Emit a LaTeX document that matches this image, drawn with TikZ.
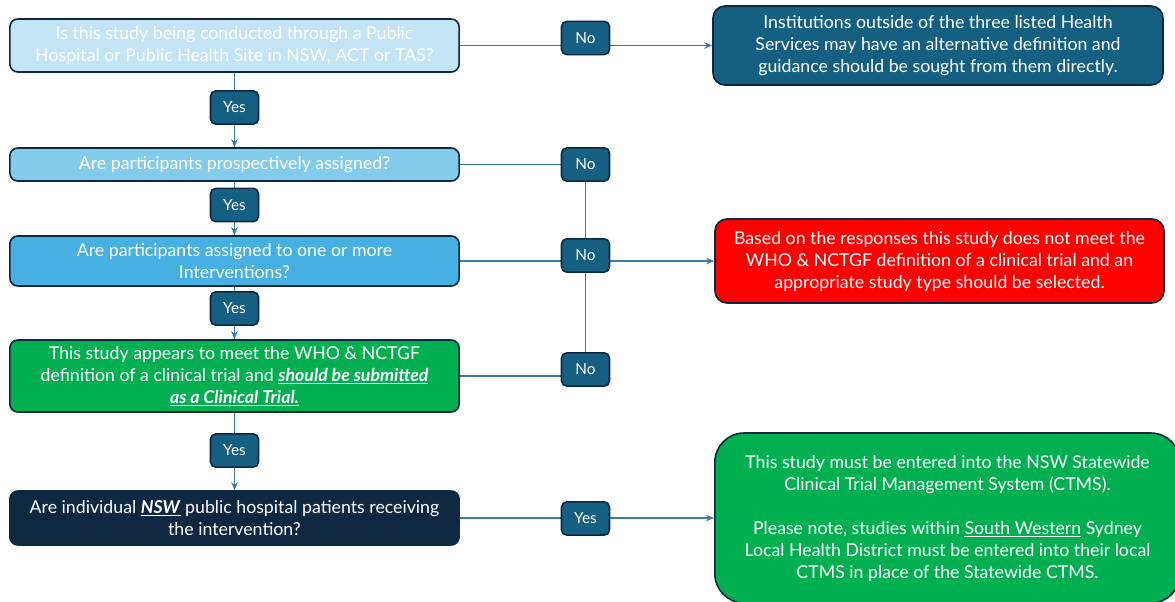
\documentclass[tikz,border=0pt]{standalone}
\usepackage{fontspec}
\setmainfont{Lato}
\usetikzlibrary{arrows.meta,backgrounds}

\definecolor{navy}{HTML}{0E2841}
\definecolor{tealblue}{HTML}{156082}
\definecolor{linkblue}{HTML}{3B7BA3}
\definecolor{qpale}{HTML}{C2E4F5}
\definecolor{qlight}{HTML}{83CBEB}
\definecolor{qmid}{HTML}{45B0E1}
\definecolor{okgreen}{HTML}{00B050}
\definecolor{stopred}{HTML}{FF0000}

\tikzset{
    question/.style={draw=navy, line width=1.2pt, rounded corners=6pt, text=white,
        minimum width=337pt, align=center, inner sep=2pt,
        font=\fontsize{13.3}{16.5}\selectfont},
    answer/.style={draw=navy, line width=1.2pt, rounded corners=4pt, fill=tealblue,
        text=white, minimum width=36pt, minimum height=25pt, inner sep=1pt,
        font=\fontsize{11.5}{13}\selectfont},
    outcome/.style={draw=navy, line width=1.2pt, rounded corners=9pt, text=white,
        align=center, inner sep=2pt, font=\fontsize{13.3}{16.5}\selectfont},
    link/.style={draw=linkblue, line width=1.1pt},
    arr/.style={link, -{Stealth[length=6pt,width=5pt]}},
}

\begin{document}
\begin{tikzpicture}[x=0.75pt, y=-0.75pt]
    \useasboundingbox (0, 0) rectangle (1175, 601);

    % questions
    \node[question, fill=qpale, minimum height=39.75pt] (q1) at (234.5, 45.5)
        {Is this study being conducted through a Public\\Hospital or Public Health Site in NSW, ACT or TAS?};
    \node[question, fill=qlight, minimum height=24.75pt] (q2) at (234.5, 164.5)
        {Are participants prospectively assigned?};
    \node[question, fill=qmid, minimum height=37.5pt] (q3) at (234.5, 261)
        {Are participants assigned to one or more\\Interventions?};
    \node[question, fill=okgreen, minimum height=54pt] (q4) at (234.5, 376)
        {This study appears to meet the WHO \& NCTGF\\definition of a clinical trial and \underline{\textbf{\textit{should be submitted}}}\\\underline{\textbf{\textit{as a Clinical Trial.}}}};
    \node[question, fill=navy, minimum height=40.5pt] (q5) at (234.5, 518)
        {Are individual \underline{\textbf{\textit{NSW}}} public hospital patients receiving\\the intervention?};

    % outcomes
    \node[outcome, fill=tealblue, minimum width=337.5pt, minimum height=59.25pt] (r1) at (938, 45.5)
        {Institutions outside of the three listed Health\\Services may have an alternative definition and\\guidance should be sought from them directly.};
    \node[outcome, fill=stopred, minimum width=336.75pt, minimum height=63pt] (r2) at (939.5, 261)
        {Based on the responses this study does not meet the\\WHO \& NCTGF definition of a clinical trial and an\\appropriate study type should be selected.};
    \node[outcome, fill=okgreen, rounded corners=22pt, minimum width=349pt, minimum height=127.5pt] (r3) at (947.5, 518)
        {This study must be entered into the NSW Statewide\\Clinical Trial Management System (CTMS).\\[16.5pt]Please note, studies within \underline{South Western} Sydney\\Local Health District must be entered into their local\\CTMS in place of the Statewide CTMS.};

    % yes / no tags
    \node[answer] (yes1) at (234.5, 107.5) {Yes};
    \node[answer] (yes2) at (234.5, 205) {Yes};
    \node[answer] (yes3) at (234.5, 308.5) {Yes};
    \node[answer] (yes4) at (234.5, 450.5) {Yes};
    \node[answer] (no1) at (585.5, 38) {No};
    \node[answer] (no2) at (585.5, 164.5) {No};
    \node[answer] (no3) at (585.5, 255.5) {No};
    \node[answer] (no4) at (585.5, 369.5) {No};
    \node[answer] (yes5) at (585.5, 518.5) {Yes};

    \begin{pgfonlayer}{background}
        \draw[arr] (q1) to (q2);
        \draw[arr] (q2) to (q3);
        \draw[arr] (q3) to (q4);
        \draw[arr] (q4) to (q5);

        \draw[arr] (q1) to (r1);
        \draw[link] (q2.east) -- (no2.center);
        \draw[link] (no2.center) -- (no4.center);
        \draw[arr] (q3) to (r2);
        \draw[link] (q4.east) -- (q4.east -| no4.center);
        \draw[arr] (q5) to (r3);
    \end{pgfonlayer}
\end{tikzpicture}
\end{document}
